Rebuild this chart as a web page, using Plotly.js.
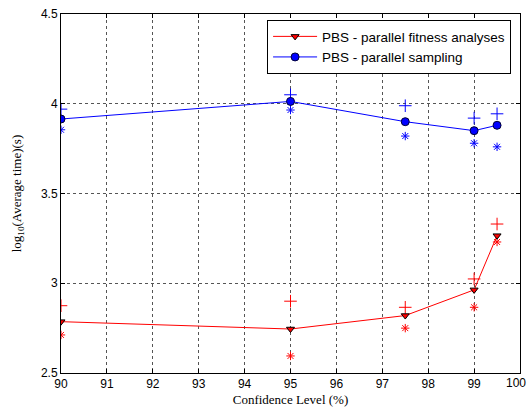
<!DOCTYPE html>
<html><head><meta charset="utf-8">
<script src="https://cdn.plot.ly/plotly-3.0.1.min.js"></script>
<style>body{margin:0;background:#fff}#c{width:529px;height:412px}</style>
</head><body><div id="c"></div>
<script>
const confLevels = [90, 95, 97.5, 99, 99.5];
const fitnessMean = [2.786, 2.745, 2.82, 2.963, 3.265];
const fitnessUpper = [2.875, 2.90, 2.866, 3.024, 3.33];
const fitnessLower = [2.712, 2.595, 2.75, 2.866, 3.23];
const samplingMean = [3.915, 4.013, 3.90, 3.85, 3.88];
const samplingUpper = [3.97, 4.05, 3.989, 3.92, 3.944];
const samplingLower = [3.855, 3.965, 3.82, 3.78, 3.76];
const xTicks = [90, 91, 92, 93, 94, 95, 96, 97, 98, 99, 100];
const yTicks = [2.5, 3, 3.5, 4, 4.5];

const red = '#ff0000', blue = '#0000ff';
const tickFont = {family: 'Liberation Sans, Arial', size: 12, color: '#000'};
function extra(y, color, sym, size) {
  return {x: confLevels, y: y, mode: 'markers', showlegend: false, hoverinfo: 'skip',
    marker: {symbol: sym, size: size, color: color, line: {color: color, width: 1}}};
}
const traces = [
  extra(fitnessUpper, red, 'cross-thin-open', 9),
  extra(fitnessLower, red, 'asterisk-open', 7),
  extra(samplingUpper, blue, 'cross-thin-open', 9),
  extra(samplingLower, blue, 'asterisk-open', 7),
  {x: confLevels, y: fitnessMean, mode: 'lines+markers', name: 'PBS - parallel fitness analyses',
    line: {color: red, width: 1}, marker: {symbol: 'triangle-down', size: 7, color: red, line: {color: '#000', width: 1}}},
  {x: confLevels, y: samplingMean, mode: 'lines+markers', name: 'PBS - parallel sampling',
    line: {color: blue, width: 1}, marker: {symbol: 'circle', size: 8, color: blue, line: {color: '#000033', width: 1}}}
];
const lastX = xTicks[xTicks.length - 1];
const axisCommon = {showline: true, linecolor: '#000', linewidth: 1, mirror: 'ticks', ticks: 'inside', ticklen: 4,
  tickcolor: '#000', showgrid: true, gridcolor: '#555', griddash: 'dot', gridwidth: 1, zeroline: false,
  ticklabeloverflow: 'allow', tickfont: tickFont};
const layout = {
  width: 529, height: 412,
  margin: {l: 61, r: 9, t: 14, b: 39},
  paper_bgcolor: '#fff', plot_bgcolor: '#fff',
  showlegend: true,
  legend: {x: 0.449, y: 0.983, xanchor: 'left', yanchor: 'top', bordercolor: '#000', borderwidth: 1, bgcolor: '#fff',
    font: {family: 'Liberation Sans, Arial', size: 13.5, color: '#000'}, tracegroupgap: 0, itemwidth: 44},
  xaxis: Object.assign({}, axisCommon, {range: [90, 100], tickvals: xTicks,
    ticktext: xTicks.map(v => v === lastX ? '' : String(v)),
    title: {text: 'Confidence Level (%)', font: {family: 'Liberation Serif, Times New Roman', size: 13, color: '#000'}, standoff: 4}}),
  yaxis: Object.assign({}, axisCommon, {range: [2.5, 4.5], tickvals: yTicks, ticktext: yTicks.map(String),
    title: {text: 'log<sub>10</sub>(Average time)(s)', font: {family: 'Liberation Serif, Times New Roman', size: 13, color: '#000'}, standoff: 16}}),
  annotations: [{x: 1, y: 0, xref: 'paper', yref: 'paper', text: String(lastX), showarrow: false,
    xanchor: 'right', yanchor: 'top', xshift: 8, yshift: -1, font: tickFont}]
};
Plotly.newPlot('c', traces, layout, {displayModeBar: false, staticPlot: true});
</script></body></html>
